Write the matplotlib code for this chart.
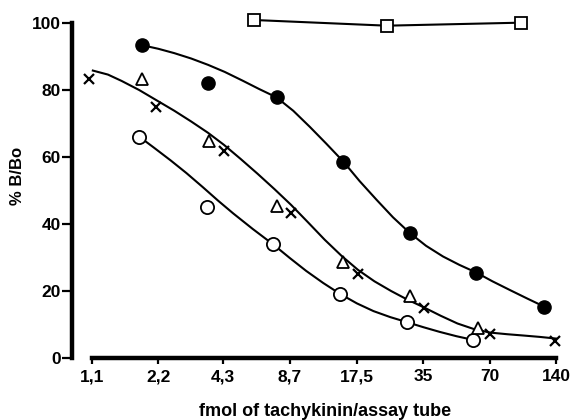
import numpy as np
import matplotlib
matplotlib.use('Agg')
import matplotlib.pyplot as plt

plt.rcParams['font.family'] = ['Liberation Sans', 'DejaVu Sans']

# measured points
x_filled = [1.85, 3.71, 7.56, 15.2, 30.3, 60.9, 124]
y_filled = [93.4, 82.0, 77.8, 58.6, 37.2, 25.5, 15.3]
x_open = [1.80, 3.65, 7.3, 14.7, 29.5, 58.9]
y_open = [66.1, 45.0, 33.9, 19.1, 10.7, 5.4]
x_tri = [1.85, 3.73, 7.6, 15.1, 30.6, 62]
y_tri = [83.3, 64.9, 45.5, 28.8, 18.5, 9.0]
x_cross = [1.07, 2.15, 4.37, 8.8, 17.7, 35.1, 70.4, 138]
y_cross = [83.2, 75.0, 61.9, 43.4, 25.1, 14.8, 7.2, 5.2]
x_sq = [5.96, 23.9, 97]
y_sq = [100.9, 99.2, 100.1]

# curves as drawn in the figure
cx_filled = [1.85, 2.2, 2.6, 3.1, 3.7, 4.4, 5.3, 6.3, 7.56, 9.0, 10.7, 12.7,
             15.2, 18.0, 21.5, 25.5, 30.3, 36, 43, 51, 60.9, 72, 87, 104, 124]
cy_filled = [93.4, 92.3, 91.0, 89.4, 87.5, 85.4, 82.8, 80.3, 77.8, 73.8, 69.0, 64.0,
             58.6, 52.8, 47.2, 42.0, 37.4, 33.5, 30.3, 27.8, 25.5, 22.9, 20.2, 17.7, 15.3]
cx_open = [1.8, 2.1, 2.5, 2.95, 3.5, 4.1, 4.8, 5.9, 7.3, 8.7, 10.3, 12.3,
           14.7, 17.5, 20.8, 24.8, 29.5, 35, 41.5, 49.5, 58.9]
cy_open = [66.1, 62.8, 59.0, 55.2, 51.0, 47.0, 43.2, 38.5, 33.9, 29.8, 26.0, 22.4,
           19.1, 16.3, 14.0, 12.2, 10.7, 9.2, 7.8, 6.5, 5.4]
cx_tc = [1.11, 1.3, 1.5, 1.8, 2.15, 2.6, 3.1, 3.7, 4.37, 5.2, 6.2, 7.4, 8.8, 10.5,
         12.5, 14.9, 17.7, 21, 25, 29.5, 35, 42, 50, 59, 70, 84, 100, 118, 140]
cy_tc = [85.8, 84.6, 82.7, 80.0, 77.0, 73.8, 70.6, 67.2, 63.6, 59.4, 55.0, 50.4, 45.7, 40.5,
         35.3, 30.5, 26.3, 22.9, 20.0, 17.5, 15.2, 12.6, 10.3, 8.7, 7.6, 7.1, 6.7, 6.3, 5.8]

xticks = [1.1, 2.2, 4.3, 8.7, 17.5, 35, 70, 140]
xticklabels = ['1,1', '2,2', '4,3', '8,7', '17,5', '35', '70', '140']
yticks = [0, 20, 40, 60, 80, 100]

fig = plt.figure(figsize=(5.74, 4.2), dpi=100)
ax = fig.add_axes([72/574, 62/420, 494/574, 335/420])
ax.set_xscale('log', base=2)
ax.set_xlim(0.893, 155.3)
ax.set_ylim(0, 100)

lw = 1.5
ax.plot(cx_filled, cy_filled, 'k-', lw=lw, clip_on=False)
ax.plot(cx_open, cy_open, 'k-', lw=lw, clip_on=False)
ax.plot(cx_tc, cy_tc, 'k-', lw=lw, clip_on=False)
ax.plot(x_sq, y_sq, 'k-', lw=lw, clip_on=False)

ax.plot(x_filled, y_filled, 'o', ms=9.5, mfc='black', mec='black', clip_on=False)
ax.plot(x_open, y_open, 'o', ms=9.5, mfc='white', mec='black', mew=1.3, clip_on=False)
ax.plot(x_tri, y_tri, '^', ms=8, mfc='white', mec='black', mew=1.3, clip_on=False)
ax.plot(x_cross, y_cross, 'x', ms=6.5, mec='black', mew=1.6, clip_on=False)
ax.plot(x_sq, y_sq, 's', ms=8, mfc='white', mec='black', mew=1.3, clip_on=False)

ax.spines['top'].set_visible(False)
ax.spines['right'].set_visible(False)
ax.spines['left'].set_linewidth(3.2)
ax.spines['bottom'].set_linewidth(3.2)
ax.spines['bottom'].set_bounds(1.1, 140)
ax.spines['left'].set_bounds(0, 100)

ax.set_xticks(xticks)
ax.set_xticklabels(xticklabels)
ax.minorticks_off()
ax.set_yticks(yticks)
ax.tick_params(axis='y', direction='out', length=7, width=1.6, labelsize=12.5, pad=1)
ax.tick_params(axis='x', direction='out', length=4, width=1.6, labelsize=12.5, pad=4)
for t in ax.get_xticklabels() + ax.get_yticklabels():
    t.set_fontweight('bold')

ax.set_ylabel('% B/Bo', fontsize=12, fontweight='bold')
ax.yaxis.set_label_coords(-0.095, 0.543)
ax.set_xlabel('fmol of tachykinin/assay tube', fontsize=13, fontweight='bold')
ax.xaxis.set_label_coords(0.512, -0.135)

fig.savefig('out.png', dpi=100)
